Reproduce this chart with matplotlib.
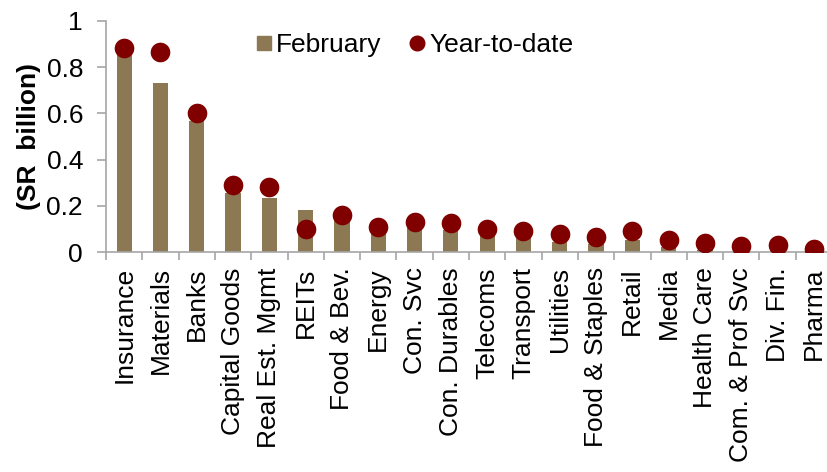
import numpy as np
import matplotlib
matplotlib.use('Agg')
import matplotlib.pyplot as plt
from matplotlib.lines import Line2D

# sectors and values (SR billion)
sectors = ['Insurance', 'Materials', 'Banks', 'Capital Goods', 'Real Est. Mgmt', 'REITs',
           'Food & Bev.', 'Energy', 'Con. Svc', 'Con. Durables', 'Telecoms', 'Transport',
           'Utilities', 'Food & Staples', 'Retail', 'Media', 'Health Care',
           'Com. & Prof Svc', 'Div. Fin.', 'Pharma']
february = [0.853, 0.730, 0.567, 0.257, 0.234, 0.182, 0.140, 0.090, 0.105, 0.095,
            0.073, 0.060, 0.045, 0.036, 0.054, 0.022, 0.010, 0.006, 0.010, 0.005]
ytd = [0.885, 0.867, 0.603, 0.290, 0.283, 0.098, 0.162, 0.108, 0.131, 0.127,
       0.100, 0.092, 0.076, 0.064, 0.092, 0.053, 0.037, 0.027, 0.031, 0.015]

bar_color = '#8C7853'
dot_color = '#800000'

plt.rcParams['font.family'] = ['Liberation Sans', 'DejaVu Sans']
fs = 19

fig = plt.figure(figsize=(8.27, 4.72), dpi=100)
ax = fig.add_axes([106 / 827, (472 - 252) / 472, 726 / 827, 231 / 472])

x = np.arange(len(sectors))
ax.bar(x, february, width=0.42, color=bar_color, zorder=2)
ax.scatter(x, ytd, s=200, color=dot_color, zorder=3, linewidths=0)

ax.set_xlim(-0.5, len(sectors) - 0.5)
ax.set_ylim(0, 1)
ax.set_yticks([0, 0.2, 0.4, 0.6, 0.8, 1])
ax.set_yticklabels(['0', '0.2', '0.4', '0.6', '0.8', '1'])

ax.set_xticks(x)
ax.set_xticklabels(sectors, rotation=90)
ax.set_xticks(np.arange(len(sectors) + 1) - 0.5, minor=True)
ax.tick_params(axis='x', which='major', length=0, pad=11, labelsize=fs)
ax.tick_params(axis='x', which='minor', length=6, width=1.2, color='#a6a6a6', direction='out')
ax.tick_params(axis='y', length=6.5, width=1.2, color='#a6a6a6', labelsize=fs, pad=10)

for s in ['top', 'right']:
    ax.spines[s].set_visible(False)
for s in ['left', 'bottom']:
    ax.spines[s].set_color('#a6a6a6')
    ax.spines[s].set_linewidth(1.2)

ax.set_ylabel('(SR  billion)', fontsize=fs, fontweight='bold', labelpad=4)

handles = [Line2D([], [], marker='s', linestyle='', color=bar_color, markersize=10),
           Line2D([], [], marker='o', linestyle='', color=dot_color, markersize=10.5)]
fig.legend(handles, ['February', 'Year-to-date'], loc='center left',
           bbox_to_anchor=(255 / 827, 1 - 45 / 472), bbox_transform=fig.transFigure,
           ncol=2, frameon=False, fontsize=fs, handletextpad=0.1, columnspacing=1.0,
           handlelength=0.7, borderpad=0, borderaxespad=0)

fig.savefig('out.png', dpi=100)
